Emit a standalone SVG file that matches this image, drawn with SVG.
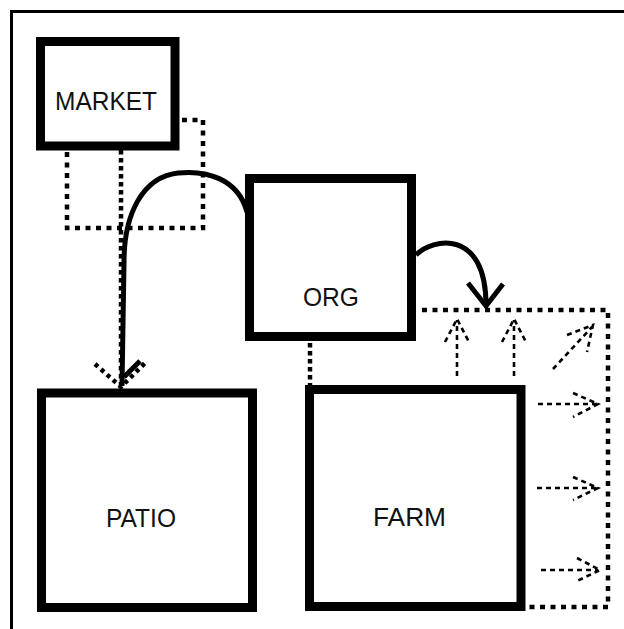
<svg xmlns="http://www.w3.org/2000/svg" width="624" height="629" viewBox="0 0 624 629">
<style>
.box{fill:#fff;stroke:#000;stroke-width:9}
.lbl{font-family:"Liberation Sans",Arial,sans-serif;font-size:26px;fill:#111}
.dot{fill:none;stroke:#000;stroke-width:4.5;stroke-dasharray:5 5.5}
.dotv{fill:none;stroke:#000;stroke-width:4.5;stroke-dasharray:4.5 3.5}
.solid{fill:none;stroke:#000;stroke-width:5}
.thin{fill:none;stroke:#000;stroke-width:2.6;stroke-dasharray:5 4}
</style>
<rect width="624" height="629" fill="#fff"/>
<path d="M11.5 629 V11.5 H624" fill="none" stroke="#000" stroke-width="3"/>
<g id="connectors">
<path class="dot" d="M67 152 V228 H203 V120 H179"/>
<path class="dotv" d="M121 150 V386"/>
<path class="solid" d="M247 212 C238 178 205 170 178 173 C142 177 124 215 124 262 L122 386"/>
<path class="solid" d="M124 377 L140 361"/>
<path d="M95 364 L121 387 L146 362" fill="none" stroke="#000" stroke-width="4.5" stroke-dasharray="4 4"/>
<path class="dotv" d="M310 343 V385"/>
<path class="solid" d="M416 255 C432 238 486 228 486 305"/>
<path class="solid" d="M468 283 L486 306 L503 284"/>
<path class="dot" d="M422 310 H608 V607 H527"/>
<path class="thin" d="M457 376 V320 M445 342 L457 319 L469 342"/>
<path class="thin" d="M514 376 V320 M502 342 L514 319 L526 342"/>
<path class="thin" d="M553 369 L592 327 M567 335 L593 325 L587 352"/>
<path class="thin" d="M538 404 H597 M573 393 L598 404 L573 417"/>
<path class="thin" d="M537 488 H597 M573 477 L598 488 L573 500"/>
<path class="thin" d="M541 570 H598 M577 558 L600 570 L577 581"/>
</g>
<g id="market"><rect class="box" x="40.5" y="41.5" width="134.5" height="104.5"/><text class="lbl" x="55" y="110" textLength="102" lengthAdjust="spacingAndGlyphs">MARKET</text></g>
<g id="org"><rect class="box" x="249.5" y="178.5" width="162" height="158"/><text class="lbl" x="303" y="306" textLength="56" lengthAdjust="spacingAndGlyphs">ORG</text></g>
<g id="patio"><rect class="box" x="41.5" y="393" width="211" height="214.5"/><text class="lbl" x="106" y="527" textLength="70" lengthAdjust="spacingAndGlyphs">PATIO</text></g>
<g id="farm"><rect class="box" x="309.5" y="389.5" width="211.5" height="217"/><text class="lbl" x="373" y="526" textLength="73" lengthAdjust="spacingAndGlyphs">FARM</text></g>
</svg>
